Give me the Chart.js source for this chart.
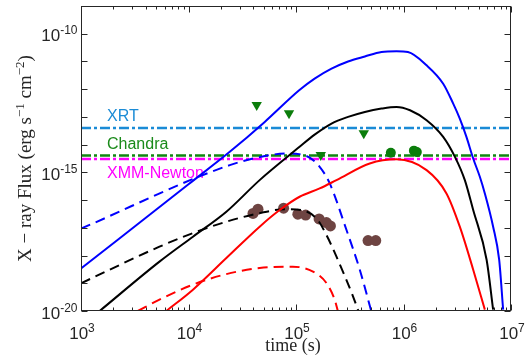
<!DOCTYPE html>
<html>
<head>
<meta charset="utf-8">
<script src="https://cdn.jsdelivr.net/npm/chart.js@4"></script>
<style>
  html, body { margin: 0; padding: 0; background: #fff; }
  #wrap { width: 530px; height: 364px; position: relative; }
</style>
</head>
<body>
<div id="wrap"><canvas id="fluxChart"></canvas></div>
<script>
// ---- data (time in s, flux in erg s^-1 cm^-2) ----
const blueSolidT = [1e3, 1e4, 2.42e4, 5.12e4, 1.07e5, 1.49e5, 2.14e5, 3.05e5, 4.37e5, 6.24e5, 8.61e5, 1.10e6, 1.64e6, 2.34e6, 2.90e6, 3.34e6, 3.85e6, 4.45e6, 5.13e6, 5.71e6, 6.82e6, 7.76e6, 8.45e6];
const blueSolidF = [3.39e-19, 3.72e-16, 5.50e-15, 6.61e-14, 9.12e-13, 2.40e-12, 5.50e-12, 1.0e-11, 1.51e-11, 2.19e-11, 2.34e-11, 2.19e-11, 7.24e-12, 1.58e-12, 3.02e-13, 8.71e-14, 1.91e-14, 3.16e-15, 6.92e-16, 1.74e-16, 1.10e-17, 7.08e-19, 1.12e-20];

const blackSolidT = [1.49e3, 5.37e3, 1.10e4, 2.25e4, 4.59e4, 1.08e5, 1.49e5, 2.14e5, 3.05e5, 4.37e5, 6.24e5, 8.61e5, 1.15e6, 1.64e6, 2.34e6, 3.01e6, 3.72e6, 4.45e6, 5.93e6, 6.82e6];
const blackSolidF = [1e-20, 6.03e-19, 4.79e-18, 3.80e-17, 5.25e-16, 8.32e-15, 2.29e-14, 5.75e-14, 1.0e-13, 1.51e-13, 2.0e-13, 2.29e-13, 1.74e-13, 7.59e-14, 1.91e-14, 3.63e-15, 5.25e-16, 4.37e-17, 7.08e-19, 1.12e-20];

const redSolidT = [6.21e3, 1.10e4, 2.25e4, 4.59e4, 7.05e4, 1.08e5, 1.66e5, 2.38e5, 4.85e5, 8.61e5, 1.64e6, 2.51e6, 3.34e6, 4.45e6, 5.71e6];
const redSolidF = [1e-20, 5.89e-20, 8.13e-19, 1.10e-17, 4.37e-17, 1.32e-16, 2.63e-16, 5.25e-16, 2.09e-15, 2.95e-15, 1.20e-15, 1.74e-16, 1.10e-17, 3.09e-19, 1.12e-20];

const blueDashT = [1e3, 2.42e4, 5.69e4, 8.13e4, 1.25e5, 1.66e5, 2.06e5, 2.95e5, 3.92e5, 5.01e5];
const blueDashF = [9.33e-18, 1.82e-15, 4.17e-15, 4.79e-15, 3.89e-15, 1.58e-15, 3.98e-16, 8.32e-18, 3.09e-19, 1e-20];

const blackDashT = [1e3, 5.37e3, 1.10e4, 2.25e4, 4.59e4, 7.94e4, 1.12e5, 1.58e5, 1.92e5, 2.38e5, 3.39e5, 3.80e5];
const blackDashF = [1.0e-19, 2.09e-18, 6.46e-18, 1.66e-17, 3.39e-17, 4.68e-17, 4.37e-17, 2.0e-17, 5.50e-18, 9.12e-19, 3.39e-20, 1e-20];

const redDashT = [3.38e3, 5.37e3, 1.10e4, 2.25e4, 4.59e4, 9.33e4, 1.44e5, 1.92e5, 2.29e5, 2.45e5];
const redDashF = [1e-20, 2.57e-20, 8.91e-20, 2.14e-19, 3.55e-19, 3.98e-19, 2.63e-19, 1.02e-19, 2.57e-20, 1e-20];

// detections (brown) and upper limits / points (green)
const obsT = [3.98e4, 4.43e4, 7.67e4, 1.04e5, 1.23e5, 1.64e5, 1.92e5, 2.09e5, 4.68e5, 5.52e5];
const obsF = [3.31e-17, 4.68e-17, 5.13e-17, 3.09e-17, 2.88e-17, 2.09e-17, 1.55e-17, 1.17e-17, 3.47e-18, 3.47e-18];
const limitT = [4.31e4, 8.61e4, 1.70e5, 4.27e5];
const limitF = [2.69e-13, 1.35e-13, 4.27e-15, 2.57e-14];
const greenDotT = [7.62e5, 1.25e6, 1.33e6];
const greenDotF = [5.13e-15, 6.08e-15, 5.37e-15];

// instrument sensitivity lines
const instNames = ['XRT', 'Chandra', 'XMM-Newton'];
const instFlux = [3.98e-14, 4.07e-15, 3.02e-15];
const instColors = ['#1a8bd6', '#118811', '#ff00ff'];

// axes
const xRange = [1e3, 1e7];
const yRange = [1e-20, 1e-9];
const xTickExp = [3, 4, 5, 6, 7];
const yTickExp = [-20, -15, -10];

function pts(ts, fs) { return ts.map((t, i) => ({ x: t, y: fs[i] })); }

function curve(ts, fs, color, dashed) {
  return {
    data: pts(ts, fs),
    showLine: true,
    borderColor: color,
    borderWidth: 2,
    borderDash: dashed ? [10, 6] : [],
    pointRadius: 0,
    cubicInterpolationMode: 'monotone',
    clip: 0,
    order: 2,
  };
}

const datasets = [];
instFlux.forEach((f, i) => {
  datasets.push({
    data: pts(xRange, [f, f]),
    showLine: true,
    borderColor: instColors[i],
    borderWidth: 2.5,
    borderDash: [10, 3, 3, 3],
    pointRadius: 0,
    order: 5 - i,
  });
});
datasets.push({
  data: pts(obsT, obsF),
  pointRadius: 5.5,
  pointBackgroundColor: '#6e4442',
  pointBorderWidth: 0,
  order: 4,
});
datasets.push(curve(blueSolidT, blueSolidF, '#0000ff', false));
datasets.push(curve(blackSolidT, blackSolidF, '#000000', false));
datasets.push(curve(redSolidT, redSolidF, '#ff0000', false));
datasets.push(curve(blueDashT, blueDashF, '#0000ff', true));
datasets.push(curve(blackDashT, blackDashF, '#000000', true));
datasets.push(curve(redDashT, redDashF, '#ff0000', true));
datasets.push({
  data: pts(limitT, limitF),
  pointStyle: 'triangle',
  rotation: 180,
  pointRadius: 6,
  pointBackgroundColor: '#0b7d0b',
  pointBorderWidth: 0,
  order: 1,
});
datasets.push({
  data: pts(greenDotT, greenDotF),
  pointRadius: 5,
  pointBackgroundColor: '#0b7d0b',
  pointBorderWidth: 0,
  order: 1,
});

const SANS = '"Liberation Sans", Arial, sans-serif';
const SERIF = '"Liberation Serif", "Times New Roman", serif';
const AXIS = '#262626';

function powerLabel(ctx, x, y, exp, align) {
  ctx.font = '17px ' + SANS;
  const wb = ctx.measureText('10').width;
  ctx.font = '12px ' + SANS;
  const we = ctx.measureText(exp).width;
  let x0 = align === 'right' ? x - wb - we : x - (wb + we) / 2;
  ctx.font = '17px ' + SANS;
  ctx.fillText('10', x0, y);
  ctx.font = '12px ' + SANS;
  ctx.fillText(exp, x0 + wb, y - 7);
}

// instrument names above/below their lines
const instLabels = {
  id: 'instLabels',
  beforeDatasetsDraw(chart) {
    const { ctx, scales: { y } } = chart;
    const offs = [-7, -6.5, 19];
    ctx.save();
    ctx.font = '16px ' + SANS;
    ctx.textAlign = 'left';
    instNames.forEach((n, i) => {
      ctx.fillStyle = instColors[i] === '#118811' ? '#1a8a1a' : instColors[i];
      ctx.fillText(n, 107, y.getPixelForValue(instFlux[i]) + offs[i]);
    });
    ctx.restore();
  }
};

// MATLAB-like box, inward ticks, 10^n labels and axis titles
const frame = {
  id: 'frame',
  afterDraw(chart) {
    const { ctx, chartArea: a, scales: { x, y } } = chart;
    ctx.save();
    ctx.strokeStyle = AXIS;
    ctx.lineWidth = 1;
    const L = Math.round(a.left) + 0.5, R = Math.round(a.right) - 0.5;
    const T = Math.round(a.top) + 0.5, B = Math.round(a.bottom) - 0.5;
    ctx.strokeRect(L, T, R - L, B - T);
    ctx.beginPath();
    for (let d = 3; d <= 7; d++) {
      for (let m = 1; m <= (d < 7 ? 9 : 1); m++) {
        const px = Math.round(x.getPixelForValue(m * Math.pow(10, d))) + 0.5;
        const len = m === 1 ? 6 : 3;
        ctx.moveTo(px, B); ctx.lineTo(px, B - len);
        ctx.moveTo(px, T); ctx.lineTo(px, T + len);
      }
    }
    for (let d = -20; d <= -9; d++) {
      const py = Math.round(y.getPixelForValue(Math.pow(10, d))) + 0.5;
      ctx.moveTo(L, py); ctx.lineTo(L + 6, py);
      ctx.moveTo(R, py); ctx.lineTo(R - 6, py);
    }
    ctx.stroke();

    ctx.fillStyle = AXIS;
    ctx.textAlign = 'left';
    xTickExp.forEach(e => {
      powerLabel(ctx, x.getPixelForValue(Math.pow(10, e)) + 1, 338.5, String(e), 'center');
    });
    yTickExp.forEach(e => {
      powerLabel(ctx, 77.5, y.getPixelForValue(Math.pow(10, e)) + 7.5, String(e), 'right');
    });

    // x title
    ctx.font = '18px ' + SERIF;
    ctx.textAlign = 'center';
    ctx.fillText('time (s)', (a.left + a.right) / 2 - 3, 351);

    // y title (rotated, with superscripts)
    const parts = [
      ['X \u2212 ray Flux (erg s', 19, 0],
      ['\u22121', 13, -7],
      [' cm', 19, 0],
      ['\u22122', 13, -7],
      [')', 19, 0],
    ];
    ctx.textAlign = 'left';
    let total = 0;
    parts.forEach(p => { ctx.font = p[1] + 'px ' + SERIF; total += ctx.measureText(p[0]).width; });
    ctx.translate(30.5, (a.top + a.bottom) / 2);
    ctx.rotate(-Math.PI / 2);
    let cx = -total / 2;
    parts.forEach(p => {
      ctx.font = p[1] + 'px ' + SERIF;
      ctx.fillText(p[0], cx, p[2]);
      cx += ctx.measureText(p[0]).width;
    });
    ctx.restore();
  }
};

new Chart(document.getElementById('fluxChart'), {
  type: 'scatter',
  data: { datasets },
  options: {
    responsive: true,
    maintainAspectRatio: false,
    animation: false,
    devicePixelRatio: 1,
    layout: { padding: { left: 0, right: 19, top: 5, bottom: 0 } },
    plugins: {
      legend: { display: false },
      tooltip: { enabled: false },
    },
    scales: {
      x: {
        type: 'logarithmic',
        min: xRange[0],
        max: xRange[1],
        grid: { display: false },
        border: { display: false },
        ticks: { display: false },
        afterFit: s => { s.height = 53; },
      },
      y: {
        type: 'logarithmic',
        min: yRange[0],
        max: yRange[1],
        grid: { display: false },
        border: { display: false },
        ticks: { display: false },
        afterFit: s => { s.width = 81; },
      }
    }
  },
  plugins: [instLabels, frame]
});
</script>
</body>
</html>
